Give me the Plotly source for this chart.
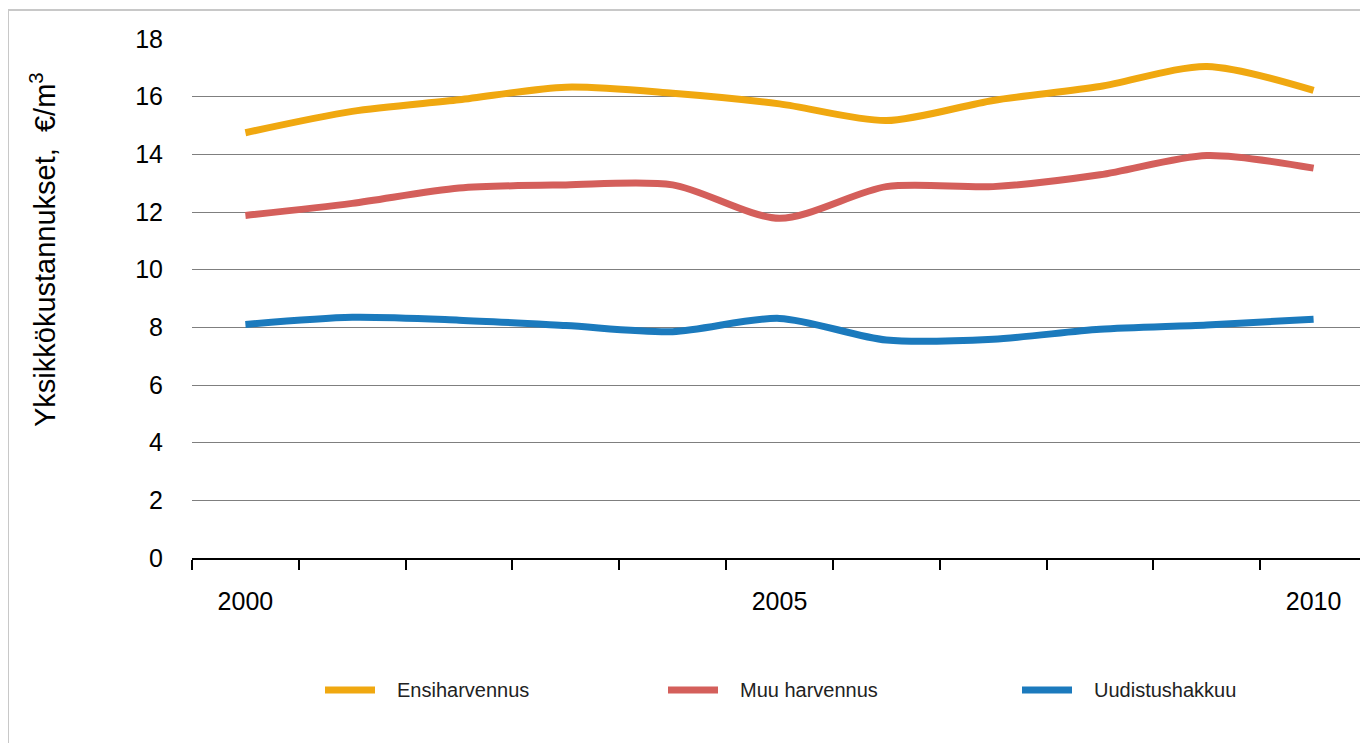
import plotly.graph_objects as go

# Data
years = [2000, 2001, 2002, 2003, 2004, 2005, 2006, 2007, 2008, 2009, 2010]
ensiharvennus = [14.75, 15.49, 15.89, 16.33, 16.12, 15.75, 15.17, 15.87, 16.35, 17.05, 16.22]
muu_harvennus = [11.88, 12.30, 12.83, 12.94, 12.94, 11.78, 12.88, 12.88, 13.29, 13.96, 13.52]
uudistushakkuu = [8.10, 8.35, 8.25, 8.06, 7.85, 8.31, 7.56, 7.59, 7.93, 8.08, 8.28]
label_years = [2000, 2005, 2010]
y_ticks = [0, 2, 4, 6, 8, 10, 12, 14, 16, 18]

series = [
    ("Ensiharvennus", ensiharvennus, "#F0A810"),
    ("Muu harvennus", muu_harvennus, "#D45F5B"),
    ("Uudistushakkuu", uudistushakkuu, "#1B7ABD"),
]

FONT = "Liberation Sans"

# page has an 8px body margin, so the figure starts at (8, 8)
OFF = 8
W, H = 1360, 735
# plot area in page pixels (left, right, top, bottom)
L, R, T, B = 192, 1367, 39, 558


def px_x(x):
    return (x - L) / (R - L)


def px_y(y):
    return (B - y) / (B - T)


fig = go.Figure()

for name, vals, color in series:
    fig.add_trace(go.Scatter(
        x=years,
        y=vals,
        mode='lines',
        name=name,
        line=dict(color=color, width=7, shape='spline', smoothing=0.8),
        showlegend=False,
    ))

fig.update_layout(
    width=W,
    height=H,
    margin=dict(l=L - OFF, r=OFF + W - R, t=T - OFF, b=OFF + H - B, autoexpand=False),
    paper_bgcolor='white',
    plot_bgcolor='white',
    font=dict(family=FONT, color='#000000'),
    showlegend=False,
)

fig.update_xaxes(
    range=[1999.5, 2010.5],
    tickmode='array',
    tickvals=label_years,
    ticktext=[str(y) for y in label_years],
    ticks='',
    showgrid=False,
    zeroline=False,
    showline=True,
    linecolor='#000000',
    linewidth=2,
    tickfont=dict(family=FONT, size=25, color='#000000'),
    ticklabelstandoff=20,
    minor=dict(ticks='outside', tick0=1999.5, dtick=1, ticklen=10,
               tickwidth=2, tickcolor='#000000', showgrid=False),
    automargin=False,
    fixedrange=True,
)

fig.update_yaxes(
    range=[0, 18],
    tickvals=y_ticks,
    showgrid=True,
    gridcolor='#7F7F7F',
    gridwidth=1,
    zeroline=False,
    showline=False,
    ticks='',
    tickfont=dict(family=FONT, size=25, color='#000000'),
    ticklabelstandoff=28,
    automargin=False,
    fixedrange=True,
)

# Y axis title placed as rotated text
fig.add_annotation(
    text="Yksikkökustannukset,  €/m<sup>3</sup>",
    textangle=-90,
    xref='paper', yref='paper',
    x=px_x(43), y=px_y(250),
    xanchor='center', yanchor='middle',
    showarrow=False,
    font=dict(family=FONT, size=29, color='#000000'),
)

# Legend drawn as line samples + labels below the plot
legend_line_x = [322, 665, 1019]
legend_y = 690
for (name, vals, color), lx in zip(series, legend_line_x):
    fig.add_shape(
        type='line',
        xref='paper', yref='paper',
        x0=px_x(lx + 3), x1=px_x(lx + 53),
        y0=px_y(legend_y), y1=px_y(legend_y),
        line=dict(color=color, width=7),
    )
    fig.add_annotation(
        text=name,
        xref='paper', yref='paper',
        x=px_x(lx + 73), y=px_y(legend_y),
        xanchor='left', yanchor='middle',
        showarrow=False,
        font=dict(family=FONT, size=20, color='#222222'),
    )

# Light outer chart frame
fig.add_shape(
    type='rect',
    xref='paper', yref='paper',
    x0=px_x(8), x1=px_x(1380),
    y0=px_y(760), y1=px_y(10),
    line=dict(color='#C8C8C8', width=2),
    fillcolor='rgba(0,0,0,0)',
    layer='below',
)

fig.write_html("out.html")
